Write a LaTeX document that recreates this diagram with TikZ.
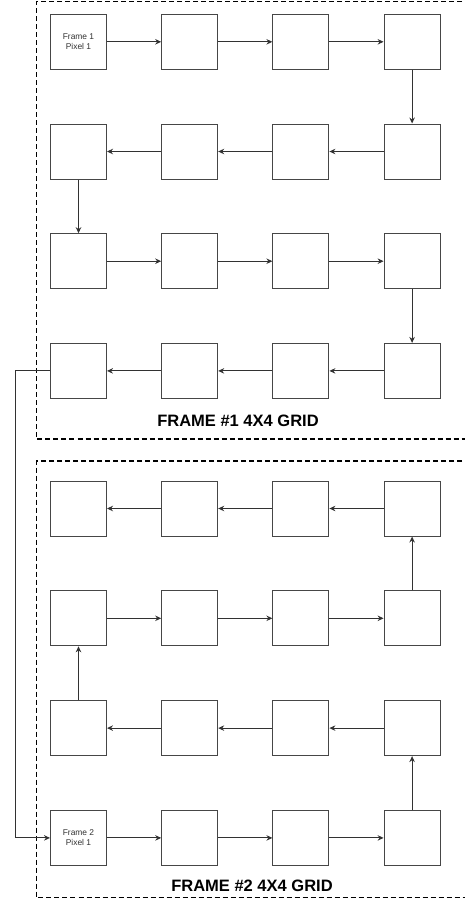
\documentclass[tikz,border=0pt]{standalone}
\usepackage{fontspec}
\setmainfont{Liberation Sans}
\usetikzlibrary{positioning, arrows.meta}
\definecolor{boxline}{RGB}{70,70,70}
\definecolor{textgray}{RGB}{50,50,50}
\tikzset{
  pixelbox/.style={
    rectangle, draw=boxline, line width=1pt, fill=white,
    minimum width=56pt, minimum height=55pt, inner sep=0pt,
    align=center, text=textgray,
    font=\fontsize{8.4}{10}\selectfont
  },
  framebox/.style={
    draw=black, line width=1.6pt, dash pattern=on 5pt off 3pt
  },
  framelabel/.style={
    font=\fontsize{16.5}{20}\selectfont\bfseries, inner sep=0pt
  },
  scanarrow/.style={
    -{Stealth[length=6pt, width=5.5pt]}, draw=textgray, line width=1pt
  }
}

\begin{document}
\begin{tikzpicture}[x=1pt, y=-1pt]
  \useasboundingbox (0,0) rectangle (464,898);

  % frames
  \draw[framebox] (470,1.5) -- (36.5,1.5) -- (36.5,439) -- (470,439);
  \draw[framebox] (470,461) -- (36.5,461) -- (36.5,897.5) -- (470,897.5);

  % pixel grids
  \foreach \r in {1,...,4}
    \foreach \c in {1,...,4} {
      \node[pixelbox] (f1-\r-\c) at ({78.5+111.2*(\c-1)}, {41.8+109.7*(\r-1)}) {};
      \node[pixelbox] (f2-\r-\c) at ({78.5+111.2*(\c-1)}, {508.5+109.8*(\r-1)}) {};
    }
  \node[align=center, text=textgray, font=\fontsize{8.4}{10}\selectfont] at (f1-1-1) {Frame 1\\Pixel 1};
  \node[align=center, text=textgray, font=\fontsize{8.4}{10}\selectfont] at (f2-4-1) {Frame 2\\Pixel 1};

  \node[framelabel] (lbl1) at (238,421) {FRAME \#1 4X4 GRID};
  \node[framelabel] (lbl2) at (252,886) {FRAME \#2 4X4 GRID};

  % scan order, frame 1
  \foreach \p [remember=\p as \q (initially 1-1)] in
      {1-2,1-3,1-4,2-4,2-3,2-2,2-1,3-1,3-2,3-3,3-4,4-4,4-3,4-2,4-1}
    \draw[scanarrow] (f1-\q) -- (f1-\p);

  % frame 1 -> frame 2
  \draw[scanarrow] (f1-4-1.west) -- ++(-34.5,0) |- (f2-4-1.west);

  % scan order, frame 2
  \foreach \p [remember=\p as \q (initially 4-1)] in
      {4-2,4-3,4-4,3-4,3-3,3-2,3-1,2-1,2-2,2-3,2-4,1-4,1-3,1-2,1-1}
    \draw[scanarrow] (f2-\q) -- (f2-\p);
\end{tikzpicture}
\end{document}
